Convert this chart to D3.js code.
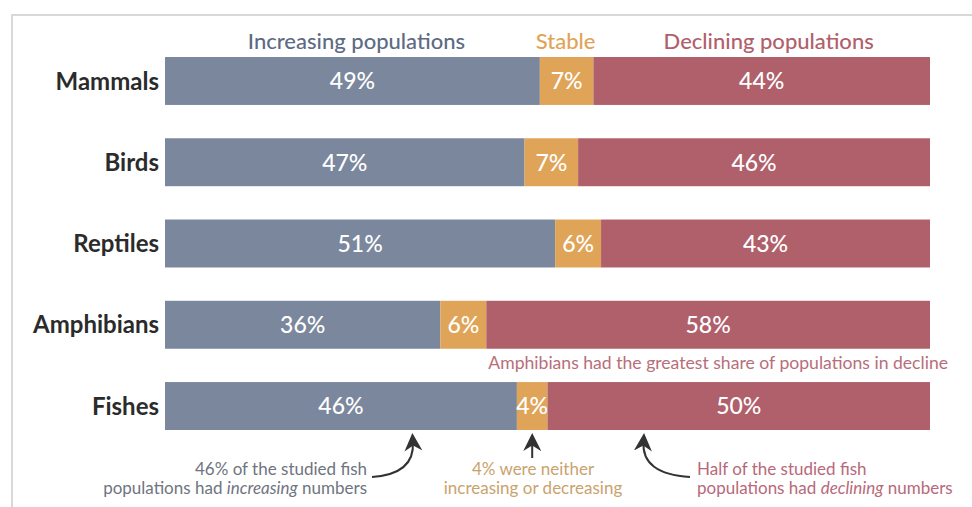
<!DOCTYPE html>
<html><head><meta charset="utf-8">
<script src="https://cdn.jsdelivr.net/npm/d3@7"></script>
<style>
body{margin:0;background:#fff;}
svg{display:block;font-family:Lato,"Open Sans",sans-serif;}
</style></head>
<body>
<svg id="c" width="972" height="507"></svg>
<script>
const categories = ["Mammals","Birds","Reptiles","Amphibians","Fishes"];
const seriesNames = ["Increasing populations","Stable","Declining populations"];
const increasing = [49,47,51,36,46];
const stable = [7,7,6,6,4];
const declining = [44,46,43,58,50];
const colors = ["#7b879d","#e0a458","#b0606b"];
const headerColors = ["#5d6a84","#e0a458","#b0606b"];

const svg = d3.select("#c");
// card frame
svg.append("rect").attr("x",12).attr("y",15).attr("width",1000).attr("height",600)
  .attr("fill","#fff").attr("stroke","#d8d8d8").attr("stroke-width",2);

const x = d3.scaleLinear().domain([0,100]).range([165,930]);
const y = d3.scaleBand().domain(categories).range([57,430]).paddingInner(0.41).paddingOuter(0);

const data = categories.map((c,i)=>({cat:c, vals:[increasing[i],stable[i],declining[i]]}));
const stacked = d3.stack().keys([0,1,2]).value((d,k)=>d.vals[k])(data);

stacked.forEach((layer,k)=>{
  const g = svg.append("g");
  g.selectAll("rect").data(layer).join("rect")
    .attr("x",d=>x(d[0])).attr("width",d=>x(d[1])-x(d[0]))
    .attr("y",d=>y(d.data.cat)).attr("height",y.bandwidth())
    .attr("fill",colors[k]);
  g.selectAll("text").data(layer).join("text")
    .attr("x",d=>(x(d[0])+x(d[1]))/2)
    .attr("y",d=>y(d.data.cat)+y.bandwidth()/2)
    .attr("dy","0.36em").attr("text-anchor","middle")
    .attr("fill","#fff").attr("font-size",23).attr("font-weight",500)
    .text(d=>d.data.vals[k]+"%");
});

// category labels
svg.append("g").selectAll("text").data(categories).join("text")
  .attr("x",159).attr("y",d=>y(d)+y.bandwidth()/2).attr("dy","0.36em")
  .attr("text-anchor","end").attr("font-size",24).attr("font-weight",700)
  .attr("fill","#2b2b2b").text(d=>d);

// header labels centered over Mammals segments
const first = stacked.map(l=>l[0]);
svg.append("g").selectAll("text").data(seriesNames).join("text")
  .attr("x",(d,k)=>(x(first[k][0])+x(first[k][1]))/2 + [4,-1,7][k])
  .attr("y",41).attr("dy","0.36em").attr("text-anchor","middle")
  .attr("font-size",22).attr("font-weight",500)
  .attr("fill",(d,k)=>headerColors[k]).text(d=>d);

// amphibian note
svg.append("text").attr("x",948).attr("y",y("Amphibians")+y.bandwidth()+14).attr("dy","0.36em")
  .attr("text-anchor","end").attr("font-size",17.6).attr("fill","#b86e7a")
  .text("Amphibians had the greatest share of populations in decline");

// fish annotations
const fish = stacked.map(l=>l[4]);
const by = y("Fishes")+y.bandwidth();
const ann = svg.append("g").attr("font-size",17);
function lines(xp, anchor, color, arr){
  arr.forEach((parts,i)=>{
    const t = ann.append("text").attr("text-anchor",anchor).attr("fill",color)
      .attr("x",xp).attr("y",by+45+i*19);
    parts.forEach(p=>{
      t.append("tspan").attr("font-style",p.it?"italic":null).text(p.t);
    });
  });
}
lines(367,"end","#6f7480",[[{t:"46% of the studied fish"}],[{t:"populations had "},{t:"increasing",it:true},{t:" numbers"}]]);
lines(533,"middle","#c9a36d",[[{t:"4% were neither"}],[{t:"increasing or decreasing"}]]);
lines(697,"start","#b8687a",[[{t:"Half of the studied fish"}],[{t:"populations had "},{t:"declining",it:true},{t:" numbers"}]]);

// arrows
const defs = svg.append("defs");
defs.append("marker").attr("id","ah").attr("viewBox","0 0 10 10").attr("refX",5).attr("refY",5)
  .attr("markerWidth",9).attr("markerHeight",9).attr("orient","auto-start-reverse")
  .append("path").attr("d","M0,0 L10,5 L0,10 L3,5 Z").attr("fill","#333");
const arr = svg.append("g").attr("fill","none").attr("stroke","#333").attr("stroke-width",2);
const xl = x(fish[0][1]) - 104, xm = (x(fish[1][0])+x(fish[1][1]))/2, xr = x(fish[2][0]) + 96;
arr.append("path").attr("d",`M${372},${by+47} Q${xl+2},${by+44} ${xl},${by+12}`).attr("marker-end","url(#ah)");
arr.append("path").attr("d",`M${xm},${by+28} L${xm},${by+12}`).attr("marker-end","url(#ah)");
arr.append("path").attr("d",`M${690},${by+47} Q${xr-2},${by+44} ${xr},${by+12}`).attr("marker-end","url(#ah)");
</script>
</body></html>
